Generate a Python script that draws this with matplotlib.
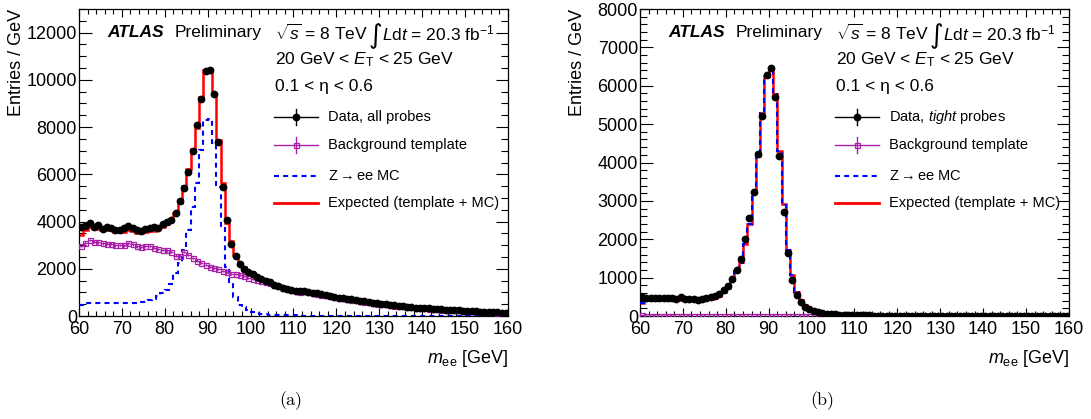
import numpy as np
import matplotlib
matplotlib.use('Agg')
import matplotlib.pyplot as plt
from matplotlib.ticker import MultipleLocator

plt.rcParams['font.family'] = ['Liberation Sans', 'DejaVu Sans']
plt.rcParams['mathtext.fontset'] = 'custom'
plt.rcParams['mathtext.rm'] = 'Liberation Sans'
plt.rcParams['mathtext.it'] = 'Liberation Sans:italic'
plt.rcParams['mathtext.bf'] = 'Liberation Sans:bold'

# 1 GeV bins from 60 to 160 GeV
edges = np.arange(60, 161, 1)
centers = edges[:-1] + 0.5

# (a) all probes
left_data = [
    3750, 3800, 3920, 3780, 3870, 3700, 3790, 3730, 3640, 3650,
    3720, 3800, 3740, 3660, 3620, 3690, 3740, 3750, 3730, 3880,
    3960, 4050, 4350, 4850, 5400, 6080, 6990, 8070, 9190, 10380,
    10400, 9380, 7380, 5460, 4050, 3030, 2550, 2220, 1980, 1860,
    1780, 1670, 1550, 1480, 1420, 1310, 1270, 1200, 1160, 1110,
    1060, 1040, 1050, 1030, 990, 960, 920, 880, 850, 820,
    780, 760, 730, 700, 670, 650, 620, 600, 560, 530,
    500, 510, 480, 450, 440, 420, 400, 380, 360, 340,
    330, 320, 300, 290, 280, 270, 260, 250, 240, 230,
    215, 210, 200, 190, 180, 170, 160, 150, 140, 130]

left_template = [
    2960, 3100, 3220, 3150, 3120, 3080, 3060, 3060, 2990, 3000,
    2990, 3080, 3040, 2950, 2920, 2960, 2960, 2880, 2830, 2800,
    2780, 2720, 2560, 2560, 2700, 2580, 2450, 2350, 2260, 2150,
    2090, 2040, 1980, 1920, 1860, 1800, 1760, 1720, 1680, 1620,
    1570, 1530, 1490, 1450, 1380, 1300, 1260, 1200, 1150, 1100,
    1050, 1030, 1040, 1020, 980, 950, 910, 870, 840, 810,
    770, 750, 720, 690, 660, 640, 610, 590, 550, 520,
    490, 500, 470, 440, 430, 410, 390, 370, 350, 335,
    325, 315, 295, 285, 275, 265, 255, 245, 235, 225,
    210, 205, 195, 185, 175, 165, 155, 145, 138, 128]

left_mc = [
    465, 540, 560, 565, 565, 565, 565, 565, 565, 565,
    565, 565, 565, 570, 580, 610, 660, 740, 850, 960,
    1100, 1350, 1810, 2230, 2800, 3640, 4630, 5620, 7030, 8280,
    8330, 7310, 5480, 3710, 2090, 1380, 820, 470, 390, 250,
    150, 110, 90, 70, 55, 45, 40, 35, 30, 25,
    22, 20, 18, 16, 14, 12, 11, 10, 9, 8,
    8, 7, 7, 6, 6, 6, 5, 5, 5, 5,
    4, 4, 4, 4, 4, 3, 3, 3, 3, 3,
    3, 3, 3, 2, 2, 2, 2, 2, 2, 2,
    2, 2, 2, 2, 2, 2, 2, 2, 2, 2]

# (b) tight probes
right_data = [
    505, 470, 460, 470, 480, 470, 460, 465, 455, 500,
    440, 450, 440, 420, 440, 470, 490, 520, 575, 690,
    780, 955, 1200, 1480, 2000, 2545, 3240, 4215, 5215, 6280,
    6455, 5700, 4170, 2720, 1635, 940, 550, 375, 245, 175,
    120, 95, 75, 60, 50, 42, 36, 30, 26, 22,
    20, 18, 16, 14, 13, 12, 11, 10, 9, 9,
    8, 8, 7, 7, 7, 6, 6, 6, 5, 5,
    5, 5, 5, 4, 4, 4, 4, 4, 3, 3,
    3, 3, 3, 3, 3, 3, 2, 2, 2, 2,
    2, 2, 2, 2, 2, 2, 2, 2, 2, 2]

right_template = [
    14, 12, 13, 11, 12, 12, 11, 13, 10, 11,
    10, 11, 10, 9, 10, 9, 10, 9, 9, 8,
    9, 8, 8, 8, 7, 8, 7, 7, 7, 6,
    7, 6, 6, 6, 6, 5, 6, 5, 5, 5,
    5, 5, 4, 5, 4, 4, 4, 4, 4, 4,
    4, 3, 4, 3, 3, 3, 3, 3, 3, 3,
    3, 3, 2, 3, 2, 2, 2, 2, 2, 2,
    2, 2, 2, 2, 2, 2, 2, 1, 2, 1,
    1, 1, 1, 1, 1, 1, 1, 1, 1, 1,
    1, 1, 1, 1, 1, 1, 1, 1, 1, 1]

right_mc = [
    330, 400, 410, 415, 400, 405, 410, 400, 405, 410,
    405, 400, 410, 410, 415, 430, 440, 470, 520, 610,
    720, 940, 1160, 1390, 1880, 2400, 3200, 4160, 5290, 6260,
    6450, 5785, 4290, 2900, 1720, 1060, 625, 400, 270, 190,
    130, 100, 80, 65, 52, 44, 38, 32, 27, 23,
    20, 18, 16, 14, 12, 11, 10, 9, 8, 8,
    7, 7, 6, 6, 6, 5, 5, 5, 5, 4,
    4, 4, 4, 4, 3, 3, 3, 3, 3, 3,
    3, 3, 2, 2, 2, 2, 2, 2, 2, 2,
    2, 2, 2, 2, 2, 2, 2, 2, 2, 2]

MAGENTA = '#a81fa8'
BLUE = '#0000ff'
RED = '#ff0000'
DASH = (0, (2.4, 2.0))


def draw_panel(ax, data, template, mc, ymax, major, minor, data_label):
    data = np.array(data, dtype=float)
    template = np.array(template, dtype=float)
    mc = np.array(mc, dtype=float)
    expected = template + mc

    ax.stairs(expected, edges, baseline=None, color=RED, lw=1.8, zorder=2)
    ax.stairs(mc, edges, baseline=None, color=BLUE, lw=1.5, ls=DASH, zorder=3)
    ax.errorbar(centers, template, xerr=0.5, yerr=np.sqrt(template), fmt='s',
                ms=3.6, mfc='none', mec=MAGENTA, mew=0.9, color=MAGENTA,
                elinewidth=0.9, capsize=0, zorder=4)
    ax.errorbar(centers, data, yerr=np.sqrt(data), fmt='o',
                ms=4.6, color='black', elinewidth=1.0, capsize=0, zorder=5)

    ax.set_xlim(60, 160)
    ax.set_ylim(0, ymax)
    ax.xaxis.set_major_locator(MultipleLocator(10))
    ax.xaxis.set_minor_locator(MultipleLocator(2))
    ax.yaxis.set_major_locator(MultipleLocator(major))
    ax.yaxis.set_minor_locator(MultipleLocator(minor))
    ax.tick_params(which='both', direction='in', top=True, right=True,
                   labelsize=13, width=0.8)
    ax.tick_params(axis='x', which='major', length=6, pad=3.5)
    ax.tick_params(axis='x', which='minor', length=3.5)
    ax.tick_params(axis='y', which='major', length=9, pad=1.5)
    ax.tick_params(axis='y', which='minor', length=5)
    for s in ax.spines.values():
        s.set_linewidth(0.9)

    ax.set_xlabel(r'$m_{\mathrm{ee}}$ [GeV]', fontsize=13, loc='right', va='center')
    ax.xaxis.set_label_coords(1.0, -0.137)
    ax.set_ylabel('Entries / GeV', fontsize=13, loc='top', va='center')
    ax.yaxis.set_label_coords(-0.146, 1.0)

    tr = ax.transAxes
    ax.text(0.065, 0.922, 'ATLAS', transform=tr, fontsize=12.5,
            fontweight='bold', fontstyle='italic', va='center')
    ax.text(0.224, 0.922, 'Preliminary', transform=tr, fontsize=12.5, va='center')
    ax.text(0.457, 0.922, r'$\sqrt{s}$ = 8 TeV', transform=tr, fontsize=12.5, va='center')
    ax.text(0.676, 0.912, '\u222b', transform=tr, fontsize=19, va='center',
            family='DejaVu Sans')
    ax.text(0.706, 0.922, r'$L$d$t$ = 20.3 fb$^{-1}$', transform=tr,
            fontsize=12.5, va='center')
    ax.text(0.457, 0.834, r'20 GeV < $E_{\mathrm{T}}$ < 25 GeV', transform=tr,
            fontsize=12.5, va='center')
    ax.text(0.457, 0.749, '0.1 < \u03b7 < 0.6', transform=tr, fontsize=12.5, va='center')

    # legend
    x0, x1, xm = 0.455, 0.557, 0.506
    rows = [0.648, 0.557, 0.456, 0.368]
    y = rows[0]
    ax.plot([x0, x1], [y, y], transform=tr, color='black', lw=1.0)
    ax.plot([xm, xm], [y - 0.026, y + 0.026], transform=tr, color='black', lw=1.0)
    ax.plot([xm], [y], 'o', transform=tr, color='black', ms=4.6)
    y = rows[1]
    ax.plot([x0, x1], [y, y], transform=tr, color=MAGENTA, lw=1.0)
    ax.plot([xm, xm], [y - 0.026, y + 0.026], transform=tr, color=MAGENTA, lw=1.0)
    ax.plot([xm], [y], 's', transform=tr, mfc='none', mec=MAGENTA, ms=3.6, mew=0.9)
    ax.plot([x0, x1], [rows[2], rows[2]], transform=tr, color=BLUE, lw=1.5, ls=DASH)
    ax.plot([x0, x1], [rows[3], rows[3]], transform=tr, color=RED, lw=2.0)
    labels = [data_label, 'Background template', r'Z$\rightarrow$ee MC',
              'Expected (template + MC)']
    for yy, lab in zip(rows, labels):
        ax.text(0.580, yy, lab, transform=tr, fontsize=10.5, va='center')


fig = plt.figure(figsize=(10.91, 4.19), dpi=100)
ax1 = fig.add_axes([0.0724, 0.2458, 0.3932, 0.7327])
ax2 = fig.add_axes([0.5866, 0.2458, 0.3932, 0.7327])

draw_panel(ax1, left_data, left_template, left_mc, 13000, 2000, 500,
           'Data, all probes')
draw_panel(ax2, right_data, right_template, right_mc, 8000, 1000, 200,
           r'Data, $\mathit{tight}$ probes')

fig.text(0.2667, 0.045, '(a)', fontsize=13, family='cmr10', ha='center', va='center')
fig.text(0.7535, 0.045, '(b)', fontsize=13, family='cmr10', ha='center', va='center')

fig.savefig('out.png', dpi=100)
